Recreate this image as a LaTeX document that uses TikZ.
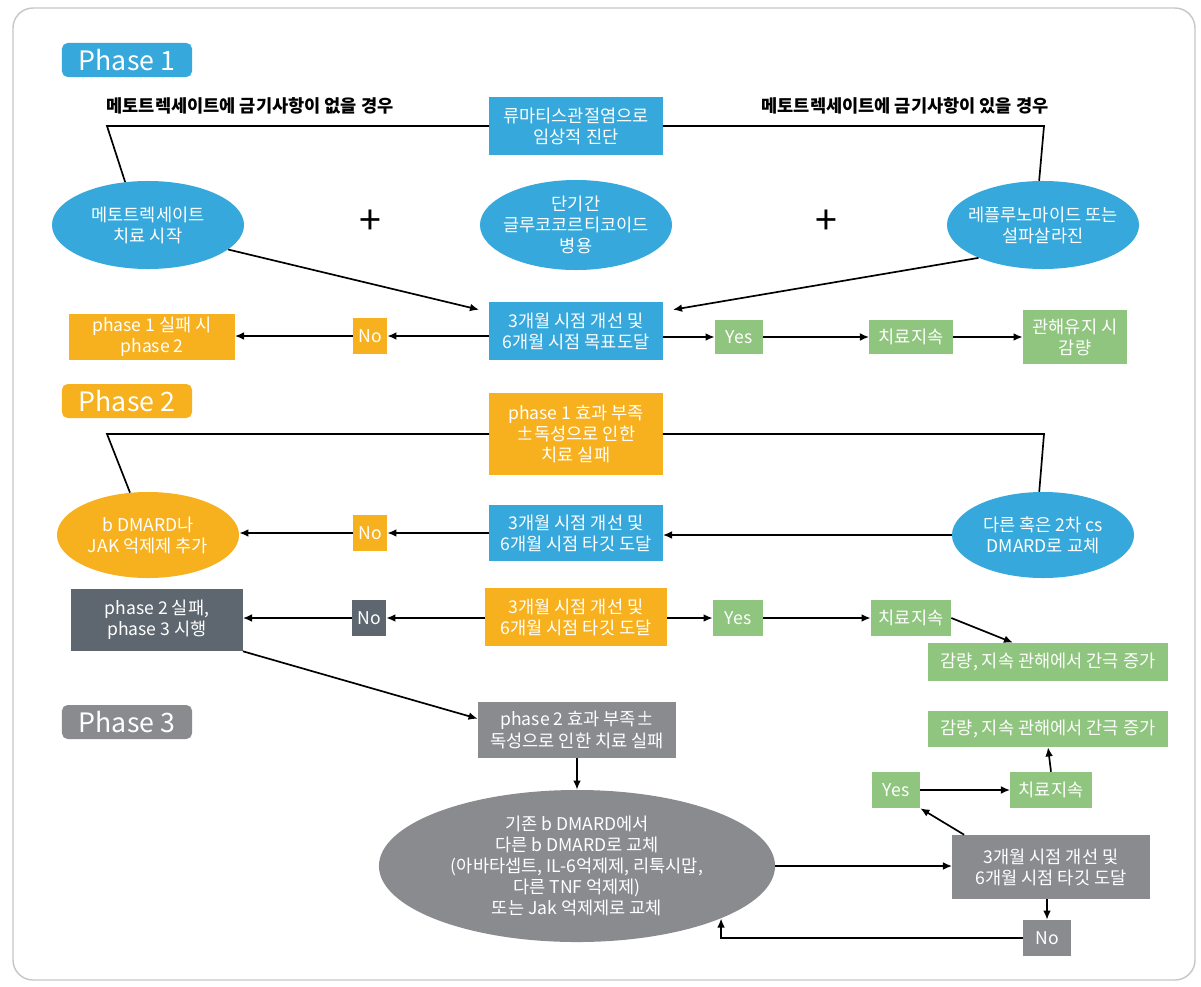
\documentclass[tikz,border=0pt]{standalone}
\usepackage{fontspec}
\setmainfont{Noto Sans CJK KR}
\usetikzlibrary{calc,arrows.meta,shapes.geometric}

\definecolor{phblue}{RGB}{54,168,219}
\definecolor{phorange}{RGB}{247,176,30}
\definecolor{phgreen}{RGB}{143,197,126}
\definecolor{phslate}{RGB}{94,103,112}
\definecolor{phgray}{RGB}{138,139,143}

\begin{document}
\begin{tikzpicture}[x=0.025cm,y=-0.025cm,>={Latex[length=6.5pt,width=5.5pt]},
    box/.style={fill=#1,text=white,align=center,inner sep=2pt,font=\fontsize{12.5}{15}\selectfont},
    oval/.style={ellipse,fill=#1,text=white,align=center,inner xsep=-6pt,inner ysep=0pt,font=\fontsize{12.5}{15}\selectfont},
    tag/.style={fill=#1,text=white,rounded corners=4pt,minimum width=3.25cm,minimum height=0.85cm,font=\fontsize{19}{22}\selectfont},
    cond/.style={font=\fontsize{12.5}{14}\selectfont\bfseries},
    link/.style={line width=1.2pt}]
  \useasboundingbox (0,0) rectangle (1201,986);
  \draw[gray!45,line width=1pt,rounded corners=0.5cm] (13,8) rectangle (1195,980);

  % phase 1
  \node[tag=phblue] (ph1) at (127,60) {Phase 1};
  \node[cond] (noci) at (250,106) {메토트렉세이트에 금기사항이 없을 경우};
  \node[cond] (yesci) at (905,106) {메토트렉세이트에 금기사항이 있을 경우};
  \node[box=phblue,minimum width=4.33cm,minimum height=1.45cm] (dx) at (576,126) {류마티스관절염으로\\임상적 진단};
  \coordinate (cl1) at (107,126);
  \coordinate (cr1) at (1044,126);
  \node[oval=phblue,minimum width=4.8cm,minimum height=2.2cm] (mtx) at (148,225) {메토트렉세이트\\치료 시작};
  \node[oval=phblue,minimum width=4.8cm,minimum height=2.25cm] (gluc) at (576,225) {단기간\\글루코코르티코이드\\병용};
  \node[oval=phblue,minimum width=4.8cm,minimum height=2.2cm] (lef) at (1043,225) {레플루노마이드 또는\\설파살라진};
  \node[font=\fontsize{28}{30}\selectfont] (plusa) at (370,222) {+};
  \node[font=\fontsize{28}{30}\selectfont] (plusb) at (826,222) {+};
  \node[box=phblue,minimum width=4.33cm,minimum height=1.45cm] (eval1) at (576,331) {3개월 시점 개선 및\\6개월 시점 목표도달};
  \node[box=phorange,minimum width=0.85cm,minimum height=0.9cm] (no1) at (370,336) {No};
  \node[box=phorange,minimum width=4.13cm,minimum height=1.15cm] (fail1) at (152,337) {phase 1 실패 시\\phase 2};
  \node[box=phgreen,minimum width=1.2cm,minimum height=0.85cm] (yes1) at (739,337) {Yes};
  \node[box=phgreen,minimum width=2.08cm,minimum height=0.85cm] (cont1) at (911,337) {치료지속};
  \node[box=phgreen,minimum width=2.6cm,minimum height=1.35cm] (taper1) at (1075,337) {관해유지 시\\감량};

  \draw[link] (dx.west) -- (cl1) -- (mtx.118);
  \draw[link] (dx.east) -- (cr1) -- (lef.95);
  \draw[link,->] (mtx.-17) -- ($(eval1.north west)+(-10,8)$);
  \draw[link,->] (lef.207) -- ($(eval1.north east)+(10,8)$);
  \draw[link,->] (eval1.west |- no1) -- (no1.east);
  \draw[link,->] (no1.west) -- (fail1.east |- no1);
  \draw[link,->] (eval1.east |- yes1) -- (yes1.west);
  \draw[link,->] (yes1.east) -- (cont1.west);
  \draw[link,->] (cont1.east) -- (taper1.west |- cont1);

  % phase 2
  \node[tag=phorange] (ph2) at (127,401) {Phase 2};
  \node[box=phorange,minimum width=4.33cm,minimum height=2.05cm] (fail2) at (576,434) {phase 1 효과 부족\\±독성으로 인한\\치료 실패};
  \coordinate (cl2) at (107,434);
  \coordinate (cr2) at (1044,434);
  \node[oval=phorange,minimum width=4.55cm,minimum height=2.15cm] (bdmard) at (148,535) {b DMARD나\\JAK 억제제 추가};
  \node[oval=phblue,minimum width=4.55cm,minimum height=2.15cm] (cs) at (1043,535) {다른 혹은 2차 cs\\DMARD로 교체};
  \node[box=phblue,minimum width=4.33cm,minimum height=1.4cm] (eval2) at (576,533) {3개월 시점 개선 및\\6개월 시점 타깃 도달};
  \node[box=phorange,minimum width=0.85cm,minimum height=0.9cm] (no2) at (370,533) {No};

  \draw[link] (fail2.west) -- (cl2) -- (bdmard.113);
  \draw[link] (fail2.east) -- (cr2) -- (cs.95);
  \draw[link,->] (cs.west) -- (eval2.east |- cs);
  \draw[link,->] (eval2.west |- no2) -- (no2.east);
  \draw[link,->] (no2.west) -- (bdmard.east |- no2);

  \node[box=phorange,minimum width=4.55cm,minimum height=1.45cm] (eval3) at (576,617) {3개월 시점 개선 및\\6개월 시점 타깃 도달};
  \node[box=phslate,minimum width=0.85cm,minimum height=0.9cm] (no3) at (369,618) {No};
  \node[box=phslate,minimum width=4.28cm,minimum height=1.55cm] (fail3) at (157,620) {phase 2 실패,\\phase 3 시행};
  \node[box=phgreen,minimum width=1.25cm,minimum height=0.9cm] (yes2) at (738,618) {Yes};
  \node[box=phgreen,minimum width=2cm,minimum height=0.9cm] (cont2) at (911,618) {치료지속};
  \node[box=phgreen,minimum width=6cm,minimum height=0.95cm] (taper2) at (1048,662) {감량, 지속 관해에서 간극 증가};

  \draw[link,->] (eval3.west |- no3) -- (no3.east);
  \draw[link,->] (no3.west) -- (fail3.east |- no3);
  \draw[link,->] (eval3.east |- yes2) -- (yes2.west);
  \draw[link,->] (yes2.east) -- (cont2.west);
  \draw[link,->] (cont2.east) -- ($(taper2.north)+(-35,0)$);

  % phase 3
  \node[tag=phgray] (ph3) at (127,722) {Phase 3};
  \node[box=phgray,minimum width=4.95cm,minimum height=1.4cm] (fail4) at (577,730) {phase 2 효과 부족±\\독성으로 인한 치료 실패};
  \node[oval=phgray,minimum width=9.9cm,minimum height=3.8cm] (bsw) at (577,866) {기존 b DMARD에서\\다른 b DMARD로 교체\\(아바타셉트, IL-6억제제, 리툭시맙,\\다른 TNF 억제제)\\또는 Jak 억제제로 교체};
  \node[box=phgreen,minimum width=6cm,minimum height=0.9cm] (taper3) at (1048,729) {감량, 지속 관해에서 간극 증가};
  \node[box=phgreen,minimum width=1.2cm,minimum height=0.9cm] (yes3) at (896,790) {Yes};
  \node[box=phgreen,minimum width=2.03cm,minimum height=0.9cm] (cont3) at (1051,790) {치료지속};
  \node[box=phgray,minimum width=4.93cm,minimum height=1.6cm] (eval4) at (1051,867) {3개월 시점 개선 및\\6개월 시점 타깃 도달};
  \node[box=phgray,minimum width=1.2cm,minimum height=0.9cm] (no4) at (1047,938) {No};

  \draw[link,->] (fail3.south east) -- ($(fail4.north west)!0.3!(fail4.south west)$);
  \draw[link,->] (fail4.south) -- (bsw.north);
  \draw[link,->] (bsw.east) -- (eval4.west |- bsw.east);
  \draw[link,->] ($(eval4.north west)+(12,0)$) -- (yes3.south east);
  \draw[link,->] (yes3.east) -- (cont3.west);
  \draw[link,->] (cont3.north) -- (taper3.south);
  \draw[link,->] (no4.north |- eval4.south) -- (no4.north);
  \draw[link,->] (no4.west) -| (bsw.-20);
\end{tikzpicture}
\end{document}
